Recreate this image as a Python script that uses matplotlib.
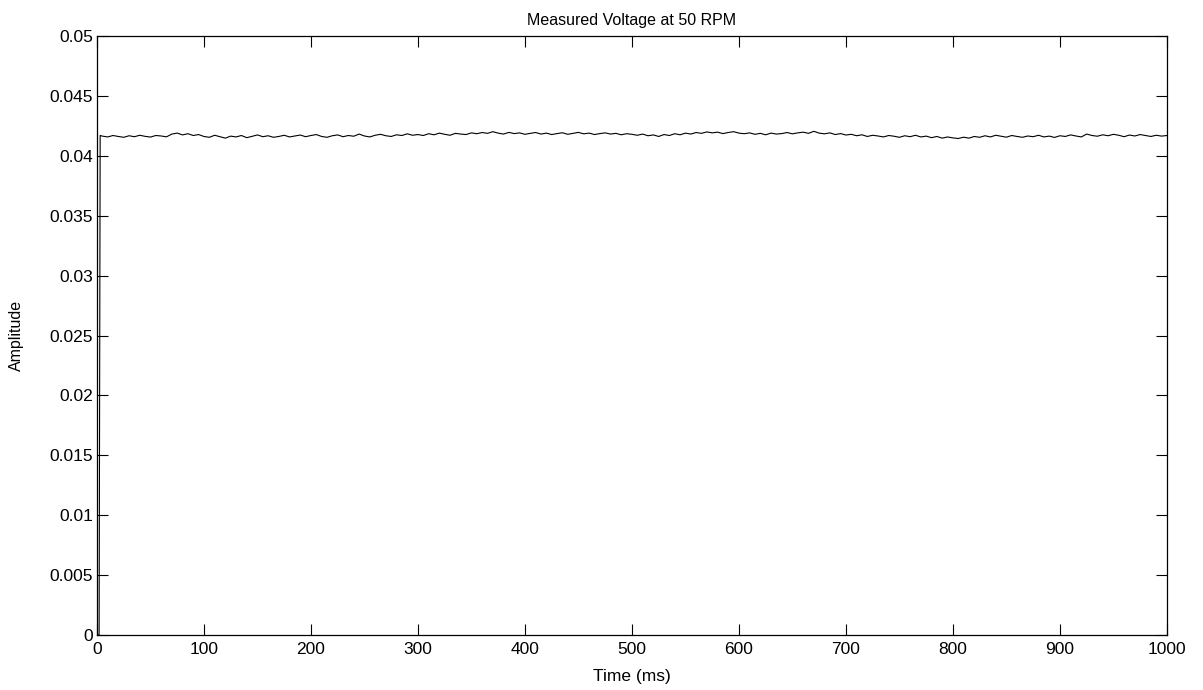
import matplotlib
matplotlib.use("Agg")
import matplotlib.pyplot as plt

title = "Measured Voltage at 50 RPM"
xlabel = "Time (ms)"
ylabel = "Amplitude"

x_ticks = [0, 100, 200, 300, 400, 500, 600, 700, 800, 900, 1000]
x_tick_labels = ["0", "100", "200", "300", "400", "500", "600", "700", "800", "900", "1000"]
y_ticks = [0, 0.005, 0.01, 0.015, 0.02, 0.025, 0.03, 0.035, 0.04, 0.045, 0.05]
y_tick_labels = ["0", "0.005", "0.01", "0.015", "0.02", "0.025", "0.03", "0.035", "0.04", "0.045", "0.05"]

# start-up transient
t_start = [0, 2, 3]
v_start = [0.0, 0.0, 0.04170]

# steady signal, sampled every 5 ms from 5 to 1000 ms
t_steady = list(range(5, 1001, 5))
v_steady = [
    0.04165, 0.04158, 0.04170, 0.04162, 0.04155, 0.04168, 0.04160, 0.04172, 0.04163, 0.04157,
    0.04170, 0.04166, 0.04159, 0.04182, 0.04190, 0.04175, 0.04185, 0.04170, 0.04178, 0.04162,
    0.04155, 0.04172, 0.04160, 0.04148, 0.04165, 0.04158, 0.04170, 0.04152, 0.04163, 0.04175,
    0.04160, 0.04168, 0.04155, 0.04162, 0.04172, 0.04158, 0.04166, 0.04174, 0.04160, 0.04170,
    0.04178, 0.04162, 0.04155, 0.04168, 0.04175, 0.04160, 0.04170, 0.04164, 0.04182, 0.04166,
    0.04158, 0.04172, 0.04180, 0.04168, 0.04162, 0.04176, 0.04170, 0.04184, 0.04172, 0.04178,
    0.04170, 0.04185, 0.04176, 0.04190, 0.04180, 0.04172, 0.04188, 0.04182, 0.04178, 0.04192,
    0.04185, 0.04195, 0.04188, 0.04202, 0.04190, 0.04182, 0.04196, 0.04186, 0.04192, 0.04180,
    0.04188, 0.04195, 0.04182, 0.04190, 0.04178, 0.04186, 0.04193, 0.04180, 0.04188, 0.04196,
    0.04184, 0.04190, 0.04178, 0.04186, 0.04192, 0.04182, 0.04188, 0.04176, 0.04185, 0.04180,
    0.04172, 0.04182, 0.04168, 0.04175, 0.04162, 0.04178, 0.04170, 0.04185, 0.04176, 0.04190,
    0.04182, 0.04195, 0.04188, 0.04200, 0.04192, 0.04198, 0.04186, 0.04195, 0.04202, 0.04190,
    0.04185, 0.04192, 0.04180, 0.04188, 0.04176, 0.04190, 0.04182, 0.04186, 0.04195, 0.04184,
    0.04192, 0.04198, 0.04188, 0.04205, 0.04190, 0.04184, 0.04192, 0.04178, 0.04186, 0.04174,
    0.04180, 0.04168, 0.04176, 0.04162, 0.04172, 0.04166, 0.04158, 0.04170, 0.04164, 0.04155,
    0.04168, 0.04160, 0.04172, 0.04158, 0.04165, 0.04152, 0.04162, 0.04148, 0.04158, 0.04150,
    0.04145, 0.04156, 0.04148, 0.04162, 0.04155, 0.04168, 0.04158, 0.04172, 0.04164, 0.04156,
    0.04170, 0.04162, 0.04155, 0.04166, 0.04160, 0.04172, 0.04158, 0.04165, 0.04154, 0.04168,
    0.04162, 0.04175, 0.04166, 0.04158, 0.04182, 0.04170, 0.04164, 0.04176, 0.04168, 0.04180,
    0.04172, 0.04160, 0.04174, 0.04166, 0.04178, 0.04170, 0.04162, 0.04172, 0.04165, 0.04170,
]

t = t_start + t_steady
v = v_start + v_steady

plt.rcParams['font.family'] = ['Liberation Sans', 'DejaVu Sans']

fig = plt.figure(figsize=(12.03, 6.90), dpi=100)
ax = fig.add_axes([0.0806, 0.0797, 0.8894, 0.868])
ax.plot(t, v, color='black', linewidth=0.8)

ax.set_xlim(0, 1000)
ax.set_ylim(0, 0.05)
ax.set_xticks(x_ticks)
ax.set_xticklabels(x_tick_labels)
ax.set_yticks(y_ticks)
ax.set_yticklabels(y_tick_labels)
ax.tick_params(direction='in', top=True, right=True, length=8, width=0.8,
               labelsize=12.5)
ax.tick_params(axis='x', pad=5)
ax.tick_params(axis='y', pad=3)
for s in ax.spines.values():
    s.set_linewidth(0.9)

ax.set_title(title, fontsize=11.5, pad=8)
ax.set_xlabel(xlabel, fontsize=12.5)
ax.xaxis.set_label_coords(0.5, -0.056)
ax.set_ylabel(ylabel, fontsize=11.5, fontstretch='condensed')
ax.yaxis.set_label_coords(-0.068, 0.5)

fig.savefig("out.png", dpi=100)
